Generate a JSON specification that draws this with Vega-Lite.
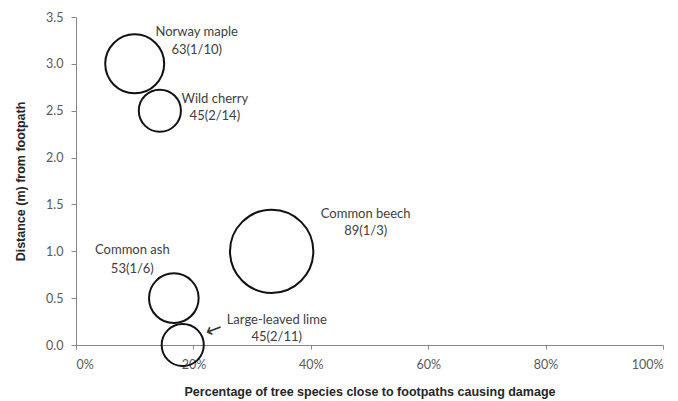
{
  "$schema": "https://vega.github.io/schema/vega-lite/v6.json",
  "autosize": {"type": "none"},
  "padding": {"left": 76, "top": 17, "right": 15, "bottom": 56},
  "width": 587,
  "height": 328,
  "background": "white",
  "config": {
    "view": {"stroke": null},
    "axis": {
      "grid": false,
      "domainColor": "#868686",
      "tickColor": "#868686",
      "labelColor": "#595959",
      "labelFont": "Lato",
      "labelFontSize": 12.5,
      "titleFont": "Liberation Sans",
      "titleFontWeight": "bold",
      "titleFontSize": 12.5,
      "titleColor": "#262626",
      "tickSize": 5
    }
  },
  "data": {
    "values": [
      {"species": "Norway maple", "pct": 0.1, "dist": 3.0, "value": 63, "label": "Norway maple\n63(1/10)"},
      {"species": "Wild cherry", "pct": 0.142857, "dist": 2.5, "value": 45, "label": "Wild cherry\n45(2/14)"},
      {"species": "Common beech", "pct": 0.333333, "dist": 1.0, "value": 89, "label": "Common beech\n89(1/3)"},
      {"species": "Common ash", "pct": 0.166667, "dist": 0.5, "value": 53, "label": "Common ash\n53(1/6)"},
      {"species": "Large-leaved lime", "pct": 0.181818, "dist": 0.0, "value": 45, "label": "Large-leaved lime\n45(2/11)"}
    ]
  },
  "encoding": {
    "x": {
      "field": "pct", "type": "quantitative",
      "scale": {"domain": [0, 1], "nice": false},
      "axis": {"values": [0, 0.2, 0.4, 0.6, 0.8, 1], "format": ".0%", "title": "Percentage of tree species close to footpaths causing damage", "labelPadding": 9, "tickSize": 4, "titlePadding": 15}
    },
    "y": {
      "field": "dist", "type": "quantitative",
      "scale": {"domain": [0, 3.5], "nice": false},
      "axis": {"values": [0, 0.5, 1, 1.5, 2, 2.5, 3, 3.5], "format": ".1f", "title": "Distance (m) from footpath", "labelPadding": 8, "titlePadding": 18}
    }
  },
  "layer": [
    {
      "mark": {"type": "point", "shape": "circle", "filled": false, "stroke": "#111111", "strokeWidth": 2, "opacity": 1, "clip": false},
      "encoding": {
        "size": {"field": "value", "type": "quantitative", "legend": null,
          "scale": {"type": "pow", "exponent": 2, "domain": [0, 89], "range": [0, 6940]}}
      }
    },
    {
      "transform": [{"filter": "datum.species === 'Norway maple'"}],
      "mark": {"type": "text", "font": "Lato", "fontSize": 13, "color": "#404040", "align": "center", "baseline": "alphabetic", "lineBreak": "\n", "lineHeight": 17.5, "dx": 62, "dy": -27.5},
      "encoding": {"text": {"field": "label"}}
    },
    {
      "transform": [{"filter": "datum.species === 'Wild cherry'"}],
      "mark": {"type": "text", "font": "Lato", "fontSize": 13, "color": "#404040", "align": "center", "baseline": "alphabetic", "lineBreak": "\n", "lineHeight": 17.5, "dx": 55, "dy": -8},
      "encoding": {"text": {"field": "label"}}
    },
    {
      "transform": [{"filter": "datum.species === 'Common beech'"}],
      "mark": {"type": "text", "font": "Lato", "fontSize": 13, "color": "#404040", "align": "center", "baseline": "alphabetic", "lineBreak": "\n", "lineHeight": 17.5, "dx": 94, "dy": -33.5},
      "encoding": {"text": {"field": "label"}}
    },
    {
      "transform": [{"filter": "datum.species === 'Common ash'"}],
      "mark": {"type": "text", "font": "Lato", "fontSize": 13, "color": "#404040", "align": "center", "baseline": "alphabetic", "lineBreak": "\n", "lineHeight": 19, "dx": -41.5, "dy": -44},
      "encoding": {"text": {"field": "label"}}
    },
    {
      "transform": [{"filter": "datum.species === 'Large-leaved lime'"}],
      "mark": {"type": "text", "font": "Lato", "fontSize": 13, "color": "#404040", "align": "center", "baseline": "alphabetic", "lineBreak": "\n", "lineHeight": 17.5, "dx": 94, "dy": -21.5},
      "encoding": {"text": {"field": "label"}}
    },
    {
      "transform": [{"filter": "datum.species === 'Large-leaved lime'"}],
      "mark": {"type": "text", "text": "←", "font": "DejaVu Sans", "fontSize": 20, "color": "#333333", "align": "center", "baseline": "middle", "angle": 339, "dx": 34.6, "dy": -2.8},
      "encoding": {}
    }
  ]
}
